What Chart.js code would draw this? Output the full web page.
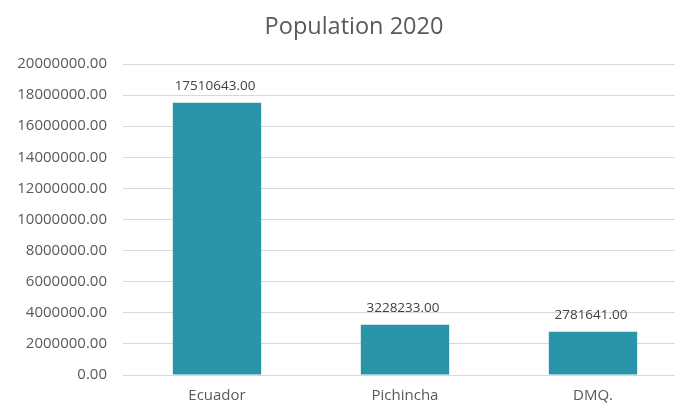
<!DOCTYPE html>
<html>
<head>
<meta charset="utf-8">
<script src="https://cdn.jsdelivr.net/npm/chart.js@4"></script>
<style>
  html, body { margin: 0; padding: 0; background: #ffffff; overflow: hidden; }
  #wrap { position: relative; width: 708px; height: 405px; }
</style>
</head>
<body>
<div id="wrap"><canvas id="chart"></canvas></div>
<script>
// Population figures for 2020
const categories = ['Ecuador', 'Pichincha', 'DMQ.'];
const population = [17510643, 3228233, 2781641];
const yTicks = [0, 2000000, 4000000, 6000000, 8000000, 10000000, 12000000, 14000000, 16000000, 18000000, 20000000];
const chartTitle = 'Population 2020';

const textColor = '#595959';
const fontFamily = '"Open Sans", "Liberation Sans", sans-serif';

// Writes each bar's value above it, and the heading over the plot
const valueLabels = {
  id: 'valueLabels',
  afterDatasetsDraw(chart) {
    const ctx = chart.ctx;
    const meta = chart.getDatasetMeta(0);
    ctx.save();
    ctx.font = '13.5px ' + fontFamily;
    ctx.fillStyle = '#404040';
    ctx.textAlign = 'center';
    ctx.textBaseline = 'middle';
    meta.data.forEach((bar, i) => {
      ctx.fillText(population[i].toFixed(2), bar.x - 2, bar.y - 17);
    });

    ctx.font = '23.5px ' + fontFamily;
    ctx.fillStyle = textColor;
    ctx.fillText(chartTitle, 354, 27);
    ctx.restore();
  }
};

new Chart(document.getElementById('chart'), {
  type: 'bar',
  data: {
    labels: categories,
    datasets: [{
      data: population,
      backgroundColor: '#2A95A8',
      borderWidth: 0,
      categoryPercentage: 1,
      barPercentage: 0.47
    }]
  },
  options: {
    responsive: true,
    maintainAspectRatio: false,
    animation: false,
    devicePixelRatio: 1,
    layout: { padding: { left: 0, right: 21, top: 64, bottom: 0 } },
    plugins: {
      legend: { display: false },
      tooltip: { enabled: false },
      title: { display: false }
    },
    scales: {
      x: {
        grid: { display: false, drawTicks: false },
        border: { display: false },
        ticks: {
          color: textColor,
          font: { family: fontFamily, size: 15 },
          padding: 12
        },
        afterFit(scale) { scale.height = 30; }
      },
      y: {
        min: 0,
        max: 20000000,
        afterBuildTicks(scale) { scale.ticks = yTicks.map(v => ({ value: v })); },
        grid: { color: '#D9D9D9', lineWidth: 1, drawTicks: false },
        border: { display: false },
        ticks: {
          color: textColor,
          font: { family: fontFamily, size: 15 },
          padding: 16,
          callback: v => Number(v).toFixed(2)
        },
        afterFit(scale) { scale.width = 123; }
      }
    }
  },
  plugins: [valueLabels]
});
</script>
</body>
</html>
